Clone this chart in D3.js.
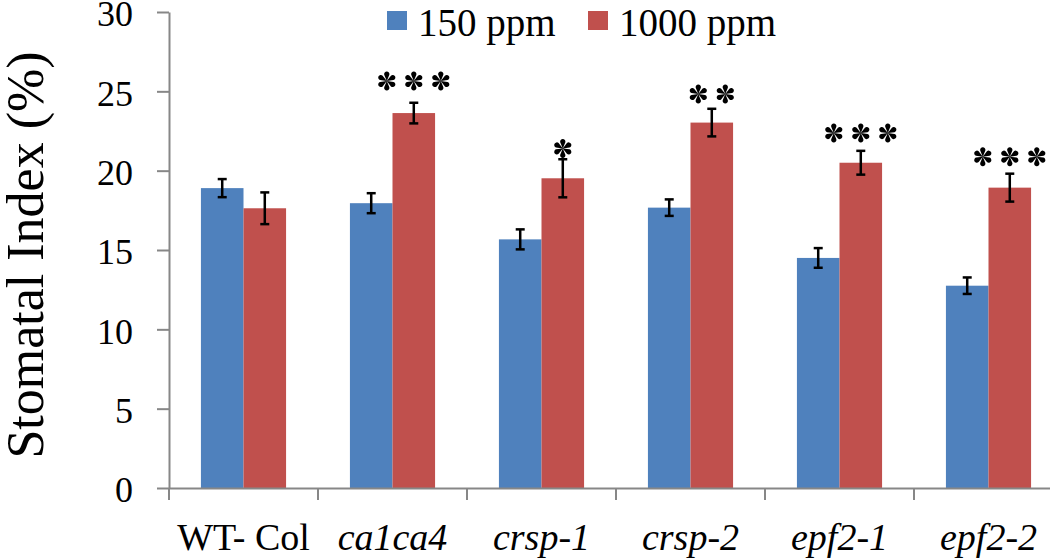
<!DOCTYPE html>
<html>
<head>
<meta charset="utf-8">
<script src="https://cdn.jsdelivr.net/npm/d3@7"></script>
<style>
  body { margin: 0; background: #fff; }
</style>
</head>
<body>
<div id="main"></div>
<script>
// data
const categories = ["WT- Col", "ca1ca4", "crsp-1", "crsp-2", "epf2-1", "epf2-2"];
const italicCats = [false, true, true, true, true, true];
const seriesNames = ["150 ppm", "1000 ppm"];
const values150 = [18.9, 17.95, 15.67, 17.67, 14.5, 12.75];
const err150 = [0.57, 0.63, 0.63, 0.52, 0.62, 0.52];
const values1000 = [17.63, 23.63, 19.52, 23.03, 20.5, 18.93];
const err1000 = [1.0, 0.65, 1.2, 0.87, 0.75, 0.88];
// number of significance stars and the level (in % units) where they sit
const starCount = [0, 3, 1, 2, 3, 3];
const starLevel = [0, 25.65, 21.4, 24.83, 22.37, 20.88];
const yTicks = [0, 5, 10, 15, 20, 25, 30];

const FONT = '"Liberation Serif", "Times New Roman", Times, serif';

const ctx = {
    w: 1050,
    h: 559,
    left: 169,
    step: 149,
    top: 12,
    bottom: 488,
    blue: "#4f81bd",
    red: "#c0504d",
    axisCol: "#878787",
    starR: 9.8,
    starGap: 27
};

// six tear-drop lobes, like the Times asterisk
const asteriskSymbol = {
    draw(context, size) {
        let r = Math.sqrt(size);
        let d = 0.7 * r, rc = 0.27 * r;
        let th = Math.asin(rc / d) * 0.55;
        for (let k = 0; k < 6; k++) {
            let a = -Math.PI / 2 + k * Math.PI / 3;
            let cx = d * Math.cos(a), cy = d * Math.sin(a);
            // narrow stem that widens into a round tip
            context.moveTo(0, 0);
            context.lineTo(cx + rc * Math.cos(a + Math.PI / 2 + th), cy + rc * Math.sin(a + Math.PI / 2 + th));
            context.arc(cx, cy, rc, a + Math.PI / 2 + th, a - Math.PI / 2 - th, true);
            context.closePath();
        }
    }
};

function createViz(){
    let svgEl = d3.select("#main").append("svg")
        .attr("width", ctx.w)
        .attr("height", ctx.h)
        .style("font-family", FONT);

    let x = d3.scaleBand()
        .domain(categories)
        .range([ctx.left, ctx.left + ctx.step * categories.length]);
    let xs = d3.scaleBand()
        .domain(seriesNames)
        .range([0, x.bandwidth()])
        .paddingOuter(0.75)
        .paddingInner(0);
    let y = d3.scaleLinear()
        .domain([0, 30])
        .range([ctx.bottom, ctx.top]);

    // y axis
    let yAxis = svgEl.append("g")
        .attr("transform", `translate(${ctx.left},0)`)
        .call(d3.axisLeft(y).tickValues(yTicks).tickSize(12).tickSizeOuter(0).tickPadding(24));
    yAxis.attr("font-family", null).attr("font-size", null);
    yAxis.select(".domain").attr("stroke", ctx.axisCol).attr("stroke-width", 2);
    yAxis.selectAll(".tick line").attr("stroke", ctx.axisCol).attr("stroke-width", 2);
    yAxis.selectAll(".tick text")
        .style("font-family", FONT)
        .style("font-size", "36px")
        .attr("dy", "0.38em")
        .attr("fill", "#000");

    // bars
    let rows = categories.map((c, i) => ({
        cat: c,
        vals: [
            {s: seriesNames[0], v: values150[i], e: err150[i], col: ctx.blue},
            {s: seriesNames[1], v: values1000[i], e: err1000[i], col: ctx.red}
        ],
        n: starCount[i],
        lvl: starLevel[i]
    }));

    let groups = svgEl.append("g").selectAll("g")
        .data(rows)
        .enter()
        .append("g")
        .attr("transform", d => `translate(${x(d.cat)},0)`);

    groups.selectAll("rect")
        .data(d => d.vals)
        .enter()
        .append("rect")
        .attr("x", d => xs(d.s))
        .attr("y", d => y(d.v))
        .attr("width", xs.bandwidth())
        .attr("height", d => y(0) - y(d.v))
        .attr("fill", d => d.col);

    // error bars
    let eb = groups.selectAll("g.err")
        .data(d => d.vals)
        .enter()
        .append("g")
        .attr("class", "err")
        .attr("stroke", "#000")
        .attr("stroke-width", 2.5);
    let cx = d => xs(d.s) + xs.bandwidth() / 2;
    eb.append("line")
        .attr("x1", cx).attr("x2", cx)
        .attr("y1", d => y(d.v + d.e)).attr("y2", d => y(d.v - d.e));
    eb.append("line")
        .attr("x1", d => cx(d) - 4.5).attr("x2", d => cx(d) + 4.5)
        .attr("y1", d => y(d.v + d.e)).attr("y2", d => y(d.v + d.e));
    eb.append("line")
        .attr("x1", d => cx(d) - 4.5).attr("x2", d => cx(d) + 4.5)
        .attr("y1", d => y(d.v - d.e)).attr("y2", d => y(d.v - d.e));

    // significance stars
    let star = d3.symbol().type(asteriskSymbol).size(ctx.starR * ctx.starR);
    groups.each(function(d) {
        let g = d3.select(this);
        let c0 = cx(d.vals[1]);
        for (let k = 0; k < d.n; k++) {
            let sx = c0 + (k - (d.n - 1) / 2) * ctx.starGap;
            g.append("path")
                .attr("d", star)
                .attr("transform", `translate(${sx},${y(d.lvl)})`)
                .attr("fill", "#000");
        }
    });

    // x axis
    let xAxis = svgEl.append("g")
        .attr("transform", `translate(0,${ctx.bottom})`)
        .call(d3.axisBottom(x).tickSize(0).tickSizeOuter(0));
    xAxis.attr("font-family", null).attr("font-size", null);
    xAxis.select(".domain").attr("stroke", ctx.axisCol).attr("stroke-width", 2);
    xAxis.selectAll(".tick text")
        .attr("y", 62)
        .attr("dy", 0)
        .style("font-family", FONT)
        .style("font-size", "38px")
        .attr("fill", "#000")
        .style("font-style", (d, i) => italicCats[i] ? "italic" : "normal");
    // category boundary ticks
    xAxis.selectAll("line.bound")
        .data(categories.concat(["end"]))
        .enter()
        .append("line")
        .attr("class", "bound")
        .attr("x1", (d, i) => ctx.left + i * x.step())
        .attr("x2", (d, i) => ctx.left + i * x.step())
        .attr("y1", 0)
        .attr("y2", 12)
        .attr("stroke", ctx.axisCol)
        .attr("stroke-width", 2);

    // y title
    svgEl.append("text")
        .attr("transform", "translate(43,255) rotate(-90)")
        .attr("text-anchor", "middle")
        .style("font-size", "52px")
        .text("Stomatal Index (%)");

    // legend
    let legend = svgEl.append("g");
    let legX = [387, 588];
    let legCol = [ctx.blue, ctx.red];
    seriesNames.forEach((s, i) => {
        legend.append("rect")
            .attr("x", legX[i]).attr("y", 11)
            .attr("width", 20).attr("height", 19)
            .attr("fill", legCol[i]);
        legend.append("text")
            .attr("x", legX[i] + 31).attr("y", 36)
            .style("font-size", "39px")
            .text(s);
    });
}

createViz();
</script>
</body>
</html>
